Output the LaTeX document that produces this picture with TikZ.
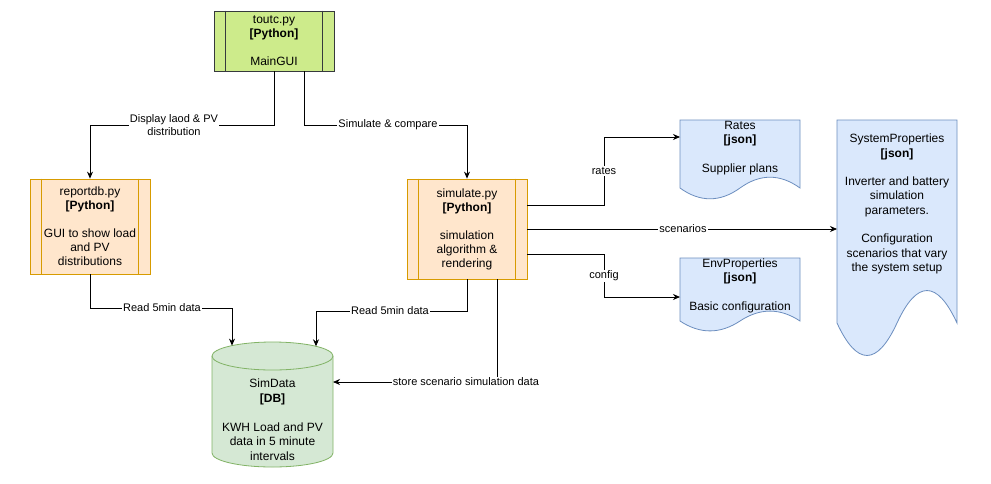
\documentclass[tikz,border=0pt]{standalone}
\usepackage{fontspec}
\setmainfont{Liberation Sans}
\usetikzlibrary{arrows.meta,calc}
\definecolor{gfill}{HTML}{CDEB8B}
\definecolor{gdraw}{HTML}{36393D}
\definecolor{ofill}{HTML}{FFE6CC}
\definecolor{odraw}{HTML}{D79B00}
\definecolor{bfill}{HTML}{DAE8FC}
\definecolor{bdraw}{HTML}{6C8EBF}
\definecolor{dfill}{HTML}{D5E8D4}
\definecolor{ddraw}{HTML}{82B366}
\begin{document}
\begin{tikzpicture}[x=1pt,y=-1pt,line width=0.8pt,
  proc/.style={draw, rectangle, minimum width=120pt, align=center, inner sep=0pt,
    font=\fontsize{12}{14}\selectfont},
  txt/.style={align=center, inner sep=0pt, font=\fontsize{12}{14.3}\selectfont},
  lbl/.style={fill=white, inner sep=1pt, align=center, font=\fontsize{11}{13.5}\selectfont},
  conn/.style={-{Stealth[length=7pt,width=6pt]}, black},
  docbox/.style={fill=bfill, draw=bdraw}]
\useasboundingbox (0,0) rectangle (991,483);
\fill[white] (0,0) rectangle (991,483);

% process boxes
\node[proc, fill=gfill, draw=gdraw, minimum height=60pt] (toutc) at (274,41)
  {toutc.py\\\textbf{[Python]}\\[14pt]MainGUI};
\draw[gdraw] ([xshift=12pt]toutc.north west) -- ([xshift=12pt]toutc.south west);
\draw[gdraw] ([xshift=-12pt]toutc.north east) -- ([xshift=-12pt]toutc.south east);

\node[proc, fill=ofill, draw=odraw, minimum height=95pt] (reportdb) at (90,226.5)
  {reportdb.py\\\textbf{[Python]}\\[14pt]GUI to show load\\and PV\\distributions};
\draw[odraw] ([xshift=12pt]reportdb.north west) -- ([xshift=12pt]reportdb.south west);
\draw[odraw] ([xshift=-12pt]reportdb.north east) -- ([xshift=-12pt]reportdb.south east);

\node[proc, fill=ofill, draw=odraw, minimum height=100pt] (simulate) at (467,229)
  {simulate.py\\\textbf{[Python]}\\[14pt]simulation\\algorithm \&\\rendering};
\draw[odraw] ([xshift=12pt]simulate.north west) -- ([xshift=12pt]simulate.south west);
\draw[odraw] ([xshift=-12pt]simulate.north east) -- ([xshift=-12pt]simulate.south east);

% document shapes
\draw[docbox] (680,120) -- (800,120) -- (800,188)
  .. controls (780,173.6) and (760,173.6) .. (740,188)
  .. controls (720,202.4) and (700,202.4) .. (680,188) -- cycle;
\node[txt] (rates) at (740,148) {Rates\\\textbf{[json]}\\[14.3pt]Supplier plans};

\draw[docbox] (680,258) -- (800,258) -- (800,321)
  .. controls (780,307.8) and (760,307.8) .. (740,321)
  .. controls (720,334.2) and (700,334.2) .. (680,321) -- cycle;
\node[txt] (env) at (740,285.5) {EnvProperties\\\textbf{[json]}\\[14.3pt]Basic configuration};

\draw[docbox] (837,120) -- (957,120) -- (957,323)
  .. controls (937,279.7) and (917,279.7) .. (897,323)
  .. controls (877,366.3) and (857,366.3) .. (837,323) -- cycle;
\node[txt] (sysprop) at (897,204) {SystemProperties\\\textbf{[json]}\\[14.3pt]Inverter and battery\\simulation\\parameters.\\[14.3pt]Configuration\\scenarios that vary\\the system setup};

% cylinder
\draw[fill=dfill, draw=ddraw] (212,356) -- (212,453)
  arc[start angle=180, end angle=0, x radius=60.5, y radius=14] -- (333,356);
\draw[fill=dfill, draw=ddraw] (272.5,356) ellipse [x radius=60.5, y radius=14];
\node[txt, font=\fontsize{12}{14.5}\selectfont] (simdata) at (272.5,419.5)
  {SimData\\\textbf{[DB]}\\[14.5pt]KWH Load and PV\\data in 5 minute\\intervals};

% entry coordinates
\coordinate (sdtopL) at (232,345.6);
\coordinate (sdtopR) at (316,346.3);
\coordinate (sdright) at (333,382);
\coordinate (ratesin) at (680,137);
\coordinate (envin) at (680,297);
\coordinate (sysin) at (837,229);

% connectors
\draw[conn] (toutc.south) -- ++(0,54) -| (reportdb.north);
\node[lbl] (l1) at (174,125) {Display laod \& PV\\distribution};
\draw[conn] ([xshift=30pt]toutc.south) -- ++(0,54) -| (simulate.north);
\node[lbl] (l2) at (388,125) {Simulate \& compare};

\draw[conn] (reportdb.south) -- ++(0,34) -| (sdtopL);
\node[lbl] (l3) at (162,308) {Read 5min data};
\draw[conn] (simulate.south) -- ++(0,32) -| (sdtopR);
\node[lbl] (l4) at (390,311) {Read 5min data};
\draw[conn] ([xshift=30pt]simulate.south) |- (sdright);
\node[lbl] (l5) at (466,382) {store scenario simulation data};

\draw[conn] ([yshift=24pt]simulate.east) -- ++(77,0) |- (ratesin);
\node[lbl] (l6) at (604,171) {rates};
\draw[conn] (simulate.east) -- (sysin);
\node[lbl] (l7) at (683,229) {scenarios};
\draw[conn] ([yshift=-25pt]simulate.east) -- ++(77,0) |- (envin);
\node[lbl] (l8) at (604,276) {config};
\end{tikzpicture}
\end{document}
